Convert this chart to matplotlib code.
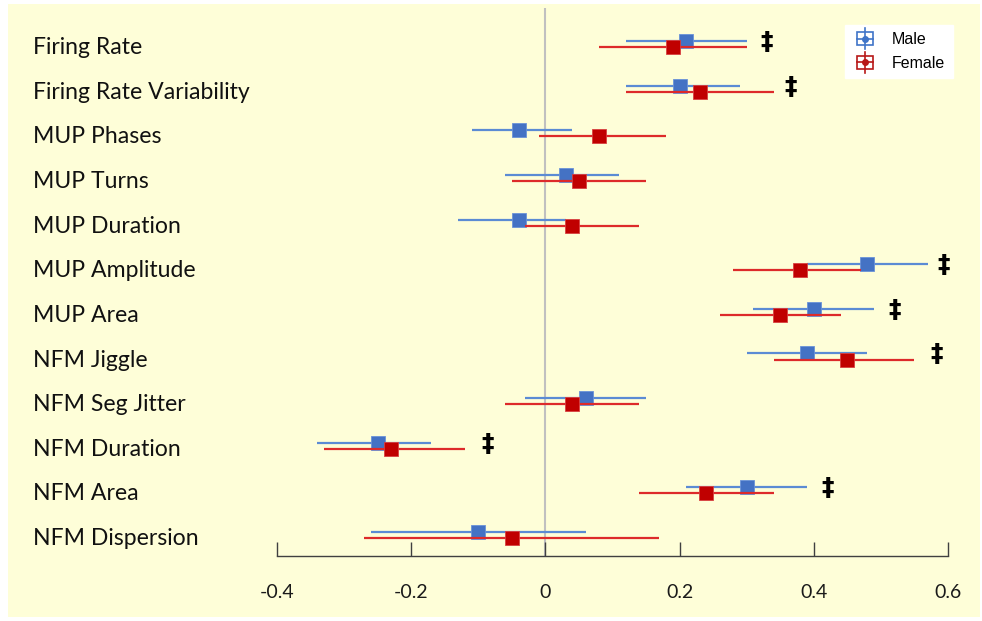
import matplotlib
matplotlib.use("Agg")
import matplotlib.pyplot as plt
import matplotlib.transforms as mtrans
from matplotlib.patches import Rectangle
from matplotlib.lines import Line2D
from matplotlib.legend_handler import HandlerBase

categories = ["Firing Rate", "Firing Rate Variability", "MUP Phases", "MUP Turns",
              "MUP Duration", "MUP Amplitude", "MUP Area", "NFM Jiggle",
              "NFM Seg Jitter", "NFM Duration", "NFM Area", "NFM Dispersion"]

male = [0.21, 0.20, -0.04, 0.03, -0.04, 0.48, 0.40, 0.39, 0.06, -0.25, 0.30, -0.10]
male_lo = [0.12, 0.12, -0.11, -0.06, -0.13, 0.39, 0.31, 0.30, -0.03, -0.34, 0.21, -0.26]
male_hi = [0.30, 0.29, 0.04, 0.11, 0.03, 0.57, 0.49, 0.48, 0.15, -0.17, 0.39, 0.06]

female = [0.19, 0.23, 0.08, 0.05, 0.04, 0.38, 0.35, 0.45, 0.04, -0.23, 0.24, -0.05]
female_lo = [0.08, 0.12, -0.01, -0.05, -0.03, 0.28, 0.26, 0.34, -0.06, -0.33, 0.14, -0.27]
female_hi = [0.30, 0.34, 0.18, 0.15, 0.14, 0.47, 0.44, 0.55, 0.14, -0.12, 0.34, 0.17]

# significance marker x-positions (None = not significant)
dagger_x = [0.33, 0.365, None, None, None, 0.593, 0.52, 0.583, None, -0.086, 0.42, None]

xticks = [-0.4, -0.2, 0, 0.2, 0.4, 0.6]
xtick_labels = ["-0.4", "-0.2", "0", "0.2", "0.4", "0.6"]

series_names = ["Male", "Female"]

BLUE = "#4472C4"
BLUE_LINE = "#5B8BD4"
RED = "#C00000"
RED_LINE = "#DD2A2A"
BG = "#FEFED8"

W, H = 982, 621
fig = plt.figure(figsize=(W / 100, H / 100), dpi=100)
fig.patch.set_facecolor("white")
fig.patches.append(Rectangle((8 / W, 4 / H), 972 / W, 613 / H, transform=fig.transFigure,
                             facecolor=BG, edgecolor="none", zorder=-10))

ax = fig.add_axes([277 / W, 1 - 556 / H, (948 - 277) / W, (556 - 8) / H])
ax.set_facecolor("none")
ax.set_xlim(-0.4, 0.6)
ax.set_ylim(11.47, -0.81)

ax.axvline(0, color="#C0C0C0", lw=1.5, zorder=1)

off = 0.068
for i in range(len(categories)):
    ym = i - off
    yf = i + off
    ax.plot([male_lo[i], male_hi[i]], [ym, ym], color=BLUE_LINE, lw=1.6, zorder=2,
            solid_capstyle="butt")
    ax.plot([male[i]], [ym], marker="s", ms=10, color=BLUE, mec="#6A92D8", mew=0.6,
            zorder=3, linestyle="none")
    ax.plot([female_lo[i], female_hi[i]], [yf, yf], color=RED_LINE, lw=1.6, zorder=4,
            solid_capstyle="butt")
    ax.plot([female[i]], [yf], marker="s", ms=10, color=RED, mec="#D84040", mew=0.6,
            zorder=5, linestyle="none")
    if dagger_x[i] is not None:
        ax.text(dagger_x[i], i - 0.05, "‡", ha="center", va="center", fontsize=18,
                fontweight="bold", color="black", family="DejaVu Sans", zorder=6)

for s in ["top", "left", "right"]:
    ax.spines[s].set_visible(False)
ax.spines["bottom"].set_color("#404040")
ax.spines["bottom"].set_linewidth(1.0)
ax.set_yticks([])
ax.set_xticks(xticks)
ax.set_xticklabels(xtick_labels)
ax.tick_params(axis="x", direction="in", length=10, width=1.0, color="#404040",
               pad=20, labelsize=14)
for lab in ax.get_xticklabels():
    lab.set_family("Lato")
    lab.set_color("#1a1a1a")

# category labels in figure coordinates
trans = mtrans.blended_transform_factory(fig.transFigure, ax.transData)
for i, cat in enumerate(categories):
    ax.text(33 / W, i + 0.08, cat, transform=trans, ha="left", va="center",
            fontsize=16.6, family="Lato", color="#111111", clip_on=False)


class ErrIconHandler(HandlerBase):
    def __init__(self, color):
        super().__init__()
        self.color = color

    def create_artists(self, legend, orig_handle, xdescent, ydescent, width, height,
                       fontsize, trans):
        cx = width / 2 - xdescent
        cy = height / 2 - ydescent
        bw, bh = 12, 9
        arts = []
        arts.append(Rectangle((cx - bw / 2, cy - bh / 2), bw, bh, facecolor="none",
                              edgecolor=self.color, lw=1.2, transform=trans))
        arts.append(Line2D([cx - bw / 2, cx + bw / 2], [cy, cy], color=self.color, lw=1.2,
                           transform=trans))
        arts.append(Line2D([cx, cx], [cy - bh / 2 - 3, cy + bh / 2 + 3], color=self.color,
                           lw=1.2, transform=trans))
        arts.append(Line2D([cx], [cy], marker="o", ms=4, color=self.color,
                           transform=trans, linestyle="none"))
        return arts


h_m = Line2D([], [], color=BLUE)
h_f = Line2D([], [], color=RED)
leg = ax.legend([h_m, h_f], series_names,
                handler_map={h_m: ErrIconHandler("#3F74C8"), h_f: ErrIconHandler("#B81818")},
                loc="upper left", bbox_to_anchor=((845 - 277) / (948 - 277), 1 - (25 - 8) / (556 - 8)),
                frameon=True, fancybox=False, framealpha=1.0, edgecolor="white",
                facecolor="white", prop={"family": "Liberation Sans", "size": 11.5},
                handlelength=1.6, handletextpad=0.9, labelspacing=0.55, borderpad=0.45,
                borderaxespad=0)

fig.savefig("out.png", dpi=100, facecolor=fig.get_facecolor())
